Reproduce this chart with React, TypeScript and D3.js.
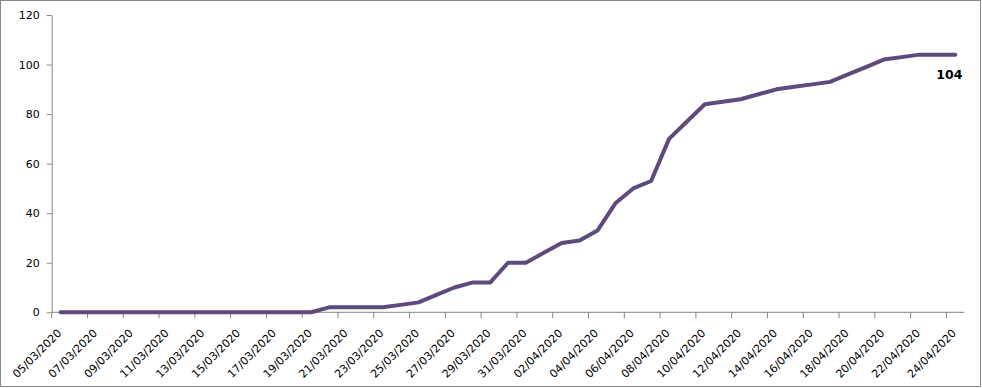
import React, { useEffect, useRef } from 'react';
import * as d3 from 'd3';

// daily categories 05/03/2020 .. 24/04/2020
const dates: string[] = [
  '05/03/2020', '06/03/2020', '07/03/2020', '08/03/2020', '09/03/2020', '10/03/2020', '11/03/2020',
  '12/03/2020', '13/03/2020', '14/03/2020', '15/03/2020', '16/03/2020', '17/03/2020', '18/03/2020',
  '19/03/2020', '20/03/2020', '21/03/2020', '22/03/2020', '23/03/2020', '24/03/2020', '25/03/2020',
  '26/03/2020', '27/03/2020', '28/03/2020', '29/03/2020', '30/03/2020', '31/03/2020', '01/04/2020',
  '02/04/2020', '03/04/2020', '04/04/2020', '05/04/2020', '06/04/2020', '07/04/2020', '08/04/2020',
  '09/04/2020', '10/04/2020', '11/04/2020', '12/04/2020', '13/04/2020', '14/04/2020', '15/04/2020',
  '16/04/2020', '17/04/2020', '18/04/2020', '19/04/2020', '20/04/2020', '21/04/2020', '22/04/2020',
  '23/04/2020', '24/04/2020',
];

const cases: number[] = [
  0, 0, 0, 0, 0, 0, 0, 0, 0, 0, 0, 0, 0, 0, 0,
  2, 2, 2, 2, 3, 4, 7, 10, 12, 12, 20, 20, 24, 28, 29,
  33, 44, 50, 53, 70, 77, 84, 85, 86, 88, 90, 91, 92, 93, 96,
  99, 102, 103, 104, 104, 104,
];

const yTicks: number[] = [0, 20, 40, 60, 80, 100, 120];

const App = () => {
  const ref = useRef<SVGSVGElement>(null);

  useEffect(() => {
    if (!ref.current) return;
    const width = 982, height = 388;
    const left = 51.7, right = 964.3, top = 15, bottom = 312.3;

    const svg = d3.select(ref.current);
    svg.selectAll('*').remove();
    svg.attr('width', width).attr('height', height);

    // chart border
    svg.append('rect')
      .attr('x', 0.5).attr('y', 0.5)
      .attr('width', width - 2).attr('height', height - 2)
      .attr('fill', '#fff').attr('stroke', '#868686');

    const x = d3.scaleBand<string>().domain(dates).range([left, right]).padding(0);
    const y = d3.scaleLinear().domain([0, 120]).range([bottom, top]);
    const font = 'DejaVu Sans, Verdana, sans-serif';

    // y axis
    const yAxis = svg.append('g')
      .attr('transform', `translate(${left},0)`)
      .call(d3.axisLeft(y).tickValues(yTicks).tickSize(5).tickSizeOuter(0).tickPadding(7));
    yAxis.selectAll('path, line').attr('stroke', '#868686');
    yAxis.selectAll('text').attr('font-family', font).attr('font-size', 11).attr('fill', '#000');

    // x axis line + ticks every 2 days
    const xg = svg.append('g');
    xg.append('line')
      .attr('x1', left).attr('x2', right)
      .attr('y1', bottom).attr('y2', bottom)
      .attr('stroke', '#868686');
    const shown = dates.filter((_, i) => i % 2 === 0);
    xg.selectAll('line.tick').data(shown).join('line')
      .attr('class', 'tick')
      .attr('x1', d => x(d)!).attr('x2', d => x(d)!)
      .attr('y1', bottom).attr('y2', bottom + 6)
      .attr('stroke', '#868686');
    xg.selectAll('text').data(shown).join('text')
      .attr('transform', d => `translate(${x(d)! + x.bandwidth() / 2 - 4},${bottom + 16}) rotate(-45)`)
      .attr('text-anchor', 'end')
      .attr('dy', '0.7em')
      .attr('font-family', font).attr('font-size', 11).attr('fill', '#000')
      .text(d => d);

    // line
    const line = d3.line<number>()
      .x((_, i) => x(dates[i])! + x.bandwidth() / 2)
      .y(d => y(d));
    svg.append('path')
      .datum(cases)
      .attr('fill', 'none')
      .attr('stroke', '#5f4a7d')
      .attr('stroke-width', 4)
      .attr('stroke-linejoin', 'round')
      .attr('stroke-linecap', 'round')
      .attr('d', line);

    // last value label
    const last = cases.length - 1;
    svg.append('text')
      .attr('x', x(dates[last])! + x.bandwidth() / 2 - 6)
      .attr('y', y(cases[last]) + 24)
      .attr('text-anchor', 'middle')
      .attr('font-family', font).attr('font-weight', 'bold').attr('font-size', 12.5)
      .attr('fill', '#000')
      .text(String(cases[last]));
  }, []);

  return <svg ref={ref} style={{ position: 'absolute', left: 0, top: 0 }} />;
};

export default App;
